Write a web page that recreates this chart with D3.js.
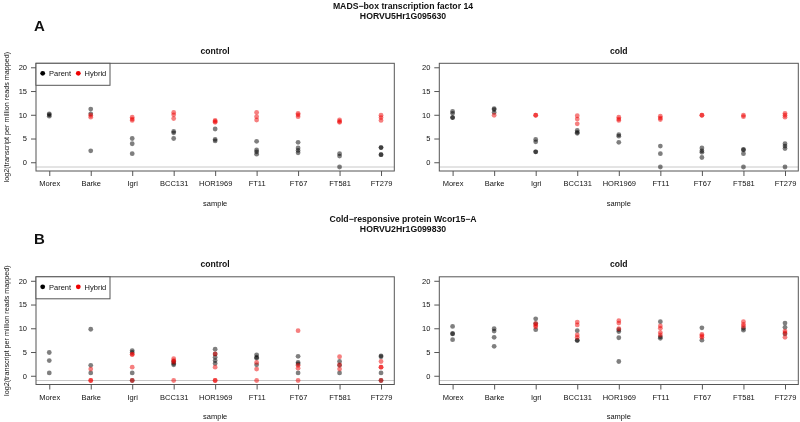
<!DOCTYPE html>
<html><head><meta charset="utf-8">
<script src="https://cdn.jsdelivr.net/npm/d3@7"></script>
<style>
body{margin:0;background:#fff}
svg{display:block;will-change:transform}
text{font-family:"Liberation Sans",Arial,Helvetica,sans-serif;fill:#111}
</style>
</head><body>
<svg id="c" width="800" height="422"></svg>
<script>
// ---------- data ----------
const samples = ["Morex","Barke","Igri","BCC131","HOR1969","FT11","FT67","FT581","FT279"];
const yTicks = [0,5,10,15,20];
const conditions = ["control","cold"];
const geneTitles = ["MADS\u2212box transcription factor 14","Cold\u2212responsive protein Wcor15\u2212A"];
const geneIds = ["HORVU5Hr1G095630","HORVU2Hr1G099830"];
const panelLetters = ["A","B"];
const legendLabels = ["Parent","Hybrid"];
const yLabel = "log2(transcript per million reads mapped)";
const xLabel = "sample";
const floorValue = -1;

const madsControlParent = [
  [10.2,10.0,9.7],[11.2,10.2,2.4],[5.0,3.9,1.8],[6.5,6.2,5.0],[7.0,4.8,4.5],
  [4.4,2.6,2.2,1.7],[4.2,3.0,2.5,2.0],[1.8,1.3,-1.0],[3.1,3.1,1.6,1.6]
];
const madsControlHybrid = [
  [],[9.9,9.5],[9.5,9.1,8.8],[10.5,10.0,9.2],[8.8,8.6,8.4],
  [10.5,9.6,8.9],[10.3,10.0,9.6],[8.9,8.6,8.4],[9.9,9.4,8.8]
];
const madsColdParent = [
  [10.7,10.3,9.4,9.4],[11.3,11.1,10.5],[4.8,4.3,2.2,2.2],[6.7,6.3,6.1],[5.8,5.5,4.2],
  [3.4,1.8,-1.0],[3.0,2.4,2.1,1.0],[2.7,2.6,1.8,-1.0],[3.9,3.4,2.9,-1.0]
];
const madsColdHybrid = [
  [],[9.9],[9.9,9.9],[9.8,9.1,8.1],[9.5,9.1,8.8],
  [9.7,9.3,9.0],[9.9,9.9],[9.9,9.6],[10.3,9.9,9.5]
];
const wcorControlParent = [
  [4.9,3.2,0.6],[9.8,2.2,0.6],[5.3,4.9,0.6,-1.0],[3.0,2.6,2.3],[5.6,4.6,3.9,3.2,2.6],
  [4.4,3.9,3.7,2.3],[4.1,2.8,2.5,0.6],[3.0,2.2,0.6],[4.2,4.0,0.6,-1.0]
];
const wcorControlHybrid = [
  [],[1.4,-1.0,-1.0],[4.5,4.5,1.8,-1.0],[3.6,3.2,2.9,-1.0],[4.6,1.8,-1.0,-1.0],
  [2.8,1.4,-1.0],[9.5,2.2,1.6,-1.0],[4.0,2.3,1.4],[3.0,1.8,1.8,-1.0]
];
const wcorColdParent = [
  [10.4,8.9,8.8,7.6],[9.9,9.4,8.1,6.2],[12.0,11.0,9.7],[9.5,7.5,7.4],[9.7,9.3,8.0,3.0],
  [11.4,8.2,7.9],[10.1,7.5],[10.0,9.6],[11.1,10.2,8.8]
];
const wcorColdHybrid = [
  [],[],[11.0,10.6,10.3],[11.3,10.7,8.6,8.1],[11.6,11.1,9.9],
  [10.5,10.0,9.1,8.6],[8.7,8.4,8.1],[11.4,10.8,10.4],[9.4,9.0,8.1]
];

const panelData = [
  [[madsControlParent, madsControlHybrid],[madsColdParent, madsColdHybrid]],
  [[wcorControlParent, wcorControlHybrid],[wcorColdParent, wcorColdHybrid]]
];

// ---------- layout ----------
const svg = d3.select("#c");
const rowOffsets = [0, 213.5];
const panelX = [[36, 394.3],[439.3, 798.3]];
const plotTop = 63.3, plotBottom = 171;
const parentCol = "rgba(0,0,0,0.5)", hybridCol = "rgba(238,0,0,0.5)";
const legendCols = ["#000","#ee0000"];
const boxCol = "#555";

rowOffsets.forEach((oy, r) => {
  const g = svg.append("g").attr("transform", `translate(0,${oy})`);
  g.append("text").attr("x", 403).attr("y", 8.5).attr("text-anchor","middle")
    .attr("font-weight","bold").attr("font-size", 8.7).text(geneTitles[r]);
  g.append("text").attr("x", 403).attr("y", 18.5).attr("text-anchor","middle")
    .attr("font-weight","bold").attr("font-size", 8.7).text(geneIds[r]);
  g.append("text").attr("x", 34).attr("y", 30.5)
    .attr("font-weight","bold").attr("font-size", 15).text(panelLetters[r]);

  conditions.forEach((cond, c) => {
    const [x0, x1] = panelX[c];
    const x = d3.scaleLinear().domain([0.68, 9.32]).range([x0, x1]);
    const y = d3.scaleLinear().domain([-1.84, 20.84]).range([plotBottom, plotTop]);
    const p = g.append("g");

    p.append("text").attr("x", (x0 + x1) / 2).attr("y", 53.5).attr("text-anchor","middle")
      .attr("font-weight","bold").attr("font-size", 8.6).text(cond);

    // floor line
    p.append("line").attr("x1", x0).attr("x2", x1).attr("y1", y(floorValue)).attr("y2", y(floorValue))
      .attr("stroke", "#c8c8c8").attr("stroke-width", 1);

    // axes
    const ya = p.append("g").attr("transform", `translate(${x0},0)`)
      .call(d3.axisLeft(y).tickValues(yTicks).tickSize(5).tickPadding(4));
    const xa = p.append("g").attr("transform", `translate(0,${plotBottom})`)
      .call(d3.axisBottom(x).tickValues(d3.range(1, samples.length + 1))
        .tickFormat(i => samples[i - 1]).tickSize(5).tickPadding(5));
    [ya, xa].forEach(a => {
      a.select(".domain").remove();
      a.selectAll(".tick line").attr("stroke", boxCol);
      a.selectAll("text").attr("font-size", 7.5).attr("fill", "#111")
        .attr("font-family", "Liberation Sans, Arial, sans-serif");
    });

    // box
    p.append("rect").attr("x", x0).attr("y", plotTop).attr("width", x1 - x0).attr("height", plotBottom - plotTop)
      .attr("fill", "none").attr("stroke", boxCol).attr("stroke-width", 1);

    // x label
    p.append("text").attr("x", (x0 + x1) / 2).attr("y", 205.5).attr("text-anchor","middle")
      .attr("font-size", 7.5).text(xLabel);

    // points
    const [par, hyb] = panelData[r][c];
    const pts = [];
    par.forEach((vals, i) => vals.forEach(v => pts.push({i, v, col: parentCol})));
    hyb.forEach((vals, i) => vals.forEach(v => pts.push({i, v, col: hybridCol})));
    p.append("g").selectAll("circle").data(pts).join("circle")
      .attr("cx", d => x(d.i + 1)).attr("cy", d => y(d.v)).attr("r", 2.4)
      .attr("fill", d => d.col);

    if (c === 0) {
      // y label
      p.append("text").attr("transform", `translate(9,${(plotTop + plotBottom) / 2}) rotate(-90)`)
        .attr("text-anchor","middle").attr("font-size", 7.2).text(yLabel);
      // legend
      const lg = p.append("g");
      lg.append("rect").attr("x", x0).attr("y", plotTop).attr("width", 74).attr("height", 22)
        .attr("fill", "#fff").attr("stroke", boxCol).attr("stroke-width", 1);
      const lx = [42.7, 78.3];
      legendLabels.forEach((lab, k) => {
        lg.append("circle").attr("cx", lx[k]).attr("cy", plotTop + 10).attr("r", 2.4).attr("fill", legendCols[k]);
        lg.append("text").attr("x", lx[k] + 6.3).attr("y", plotTop + 12.7).attr("font-size", 7.5).text(lab);
      });
    }
  });
});
</script>
</body></html>
